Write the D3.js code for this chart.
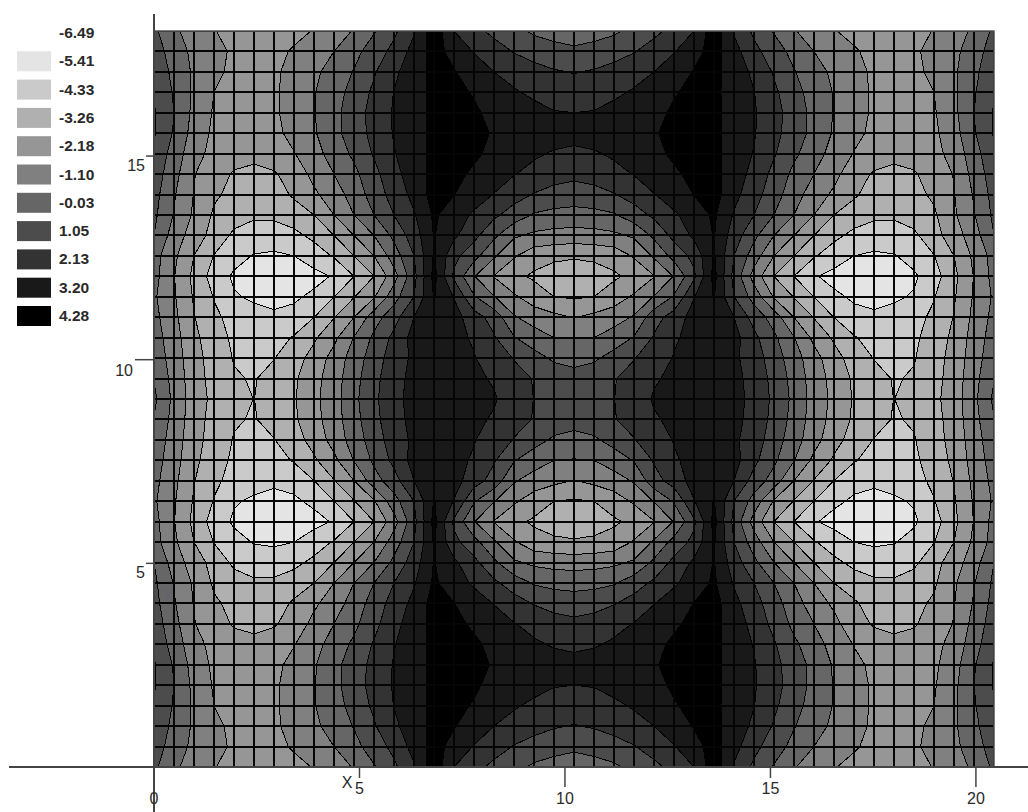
<!DOCTYPE html>
<html lang="en">
<head>
<meta charset="UTF-8" />
<title>Contour</title>
<script src="https://cdnjs.cloudflare.com/ajax/libs/d3/7.8.5/d3.min.js"></script>
<style>
  html, body { margin: 0; background: #fff; }
  svg { display: block; }
  text { font-family: "Liberation Sans", Arial, sans-serif; fill: #2a2a2a; }
</style>
</head>
<body>
<div id="chart"></div>
<script>
// legend: top label has no swatch, rest go with the band below them
const legendLabels = ["-6.49", "-5.41", "-4.33", "-3.26", "-2.18", "-1.10", "-0.03", "1.05", "2.13", "3.20", "4.28"];
const levels = [-6.49, -5.41, -4.33, -3.26, -2.18, -1.10, -0.03, 1.05, 2.13, 3.20, 4.28];
const bandColors = ["#e4e4e4", "#cacaca", "#b0b0b0", "#969696", "#808080", "#666666", "#4c4c4c", "#333333", "#191919", "#000000"];
const xTicks = [0, 5, 10, 15, 20];
const yTicks = [5, 10, 15];
const xMax = 20.44;
const yMax = 18.07;
const nCols = 43;
const nRows = 37;

// values, top row first
const gridValues = [
[0.19,-0.89,-1.59,-2.15,-2.39,-2.61,-2.67,-2.45,-2.13,-1.64,-1.02,-0.12,0.83,2.02,3.90,2.13,1.37,0.78,0.24,-0.19,-0.37,-0.46,-0.37,-0.19,0.24,0.78,1.37,2.13,3.90,2.02,0.83,-0.12,-1.02,-1.64,-2.13,-2.45,-2.67,-2.61,-2.39,-2.15,-1.59,-0.89,0.19],
[0.51,-0.52,-1.37,-1.96,-2.29,-2.50,-2.45,-2.07,-1.59,-1.10,-0.35,0.47,1.37,2.51,3.61,2.84,2.07,1.53,0.99,0.56,0.29,0.13,0.29,0.56,0.99,1.53,2.07,2.84,3.61,2.51,1.37,0.47,-0.35,-1.10,-1.59,-2.07,-2.45,-2.50,-2.29,-1.96,-1.37,-0.52,0.51],
[0.73,-0.30,-1.27,-2.02,-2.34,-2.45,-2.34,-1.86,-1.32,-0.67,0.03,0.94,1.91,2.72,3.48,3.26,2.72,2.13,1.80,1.48,1.16,0.99,1.16,1.48,1.80,2.13,2.72,3.26,3.48,2.72,1.91,0.94,0.03,-0.67,-1.32,-1.86,-2.34,-2.45,-2.34,-2.02,-1.27,-0.30,0.73],
[0.94,-0.14,-1.32,-2.18,-2.45,-2.50,-2.34,-1.75,-1.16,-0.46,0.35,1.26,2.16,2.79,3.42,3.36,3.15,2.67,2.23,1.96,1.75,1.59,1.75,1.96,2.23,2.67,3.15,3.36,3.42,2.79,2.16,1.26,0.35,-0.46,-1.16,-1.75,-2.34,-2.50,-2.45,-2.18,-1.32,-0.14,0.94],
[1.16,-0.03,-1.37,-2.29,-2.56,-2.61,-2.34,-1.75,-1.16,-0.35,0.56,1.43,2.23,2.83,3.42,3.42,3.29,3.04,2.67,2.40,2.18,2.13,2.18,2.40,2.67,3.04,3.29,3.42,3.42,2.83,2.23,1.43,0.56,-0.35,-1.16,-1.75,-2.34,-2.61,-2.56,-2.29,-1.37,-0.03,1.16],
[1.16,-0.14,-1.54,-2.39,-2.61,-2.67,-2.45,-1.86,-1.21,-0.35,0.51,1.37,2.21,2.83,3.42,3.42,3.36,3.15,2.88,2.72,2.61,2.56,2.61,2.72,2.88,3.15,3.36,3.42,3.42,2.83,2.21,1.37,0.51,-0.35,-1.21,-1.86,-2.45,-2.67,-2.61,-2.39,-1.54,-0.14,1.16],
[0.78,-0.46,-1.81,-2.50,-2.83,-3.04,-2.72,-2.23,-1.48,-0.67,0.19,1.16,2.07,2.78,3.45,3.42,3.31,3.04,2.67,2.29,2.02,1.85,2.02,2.29,2.67,3.04,3.31,3.42,3.45,2.78,2.07,1.16,0.19,-0.67,-1.48,-2.23,-2.72,-3.04,-2.83,-2.50,-1.81,-0.46,0.78],
[0.56,-0.73,-2.13,-2.78,-3.37,-3.47,-3.37,-2.83,-1.86,-1.10,-0.30,0.73,1.80,2.67,3.52,3.36,3.10,2.67,2.18,1.80,1.48,1.32,1.48,1.80,2.18,2.67,3.10,3.36,3.52,2.67,1.80,0.73,-0.30,-1.10,-1.86,-2.83,-3.37,-3.47,-3.37,-2.78,-2.13,-0.73,0.56],
[0.35,-0.99,-2.23,-3.10,-3.53,-3.80,-3.75,-3.10,-2.39,-1.59,-0.67,0.46,1.48,2.45,3.63,3.22,2.67,2.09,1.48,0.99,0.67,0.51,0.67,0.99,1.48,2.09,2.67,3.22,3.63,2.45,1.48,0.46,-0.67,-1.59,-2.39,-3.10,-3.75,-3.80,-3.53,-3.10,-2.23,-0.99,0.35],
[0.19,-1.16,-2.34,-3.42,-3.85,-4.17,-4.12,-3.80,-3.26,-2.18,-1.10,-0.03,1.05,2.02,3.36,2.67,1.96,1.26,0.56,-0.14,-0.35,-0.41,-0.35,-0.14,0.56,1.26,1.96,2.67,3.36,2.02,1.05,-0.03,-1.10,-2.18,-3.26,-3.80,-4.12,-4.17,-3.85,-3.42,-2.34,-1.16,0.19],
[-0.03,-1.59,-2.72,-3.64,-4.55,-4.82,-4.87,-4.60,-4.07,-3.26,-2.18,-1.10,0.24,1.59,3.26,2.34,1.37,0.19,-0.94,-1.32,-1.48,-1.54,-1.48,-1.32,-0.94,0.19,1.37,2.34,3.26,1.59,0.24,-1.10,-2.18,-3.26,-4.07,-4.60,-4.87,-4.82,-4.55,-3.64,-2.72,-1.59,-0.03],
[-0.67,-1.96,-3.26,-4.37,-5.04,-5.47,-5.57,-5.41,-4.87,-4.23,-3.26,-2.18,-0.57,1.05,3.31,1.37,0.35,-0.94,-2.07,-2.83,-3.04,-3.15,-3.04,-2.83,-2.07,-0.94,0.35,1.37,3.31,1.05,-0.57,-2.18,-3.26,-4.23,-4.87,-5.41,-5.57,-5.47,-5.04,-4.37,-3.26,-1.96,-0.67],
[-0.73,-2.13,-3.53,-4.80,-5.57,-5.84,-6.01,-5.95,-5.74,-5.31,-4.34,-3.26,-1.54,0.73,3.52,0.83,-1.05,-2.23,-2.99,-3.42,-3.75,-3.85,-3.75,-3.42,-2.99,-2.23,-1.05,0.83,3.52,0.73,-1.54,-3.26,-4.34,-5.31,-5.74,-5.95,-6.01,-5.84,-5.57,-4.80,-3.53,-2.13,-0.73],
[-0.94,-2.07,-3.37,-4.39,-5.31,-5.57,-5.68,-5.57,-5.20,-4.34,-3.31,-2.29,-0.46,1.05,3.26,2.07,0.08,-1.05,-2.02,-2.72,-3.26,-3.37,-3.26,-2.72,-2.02,-1.05,0.08,2.07,3.26,1.05,-0.46,-2.29,-3.31,-4.34,-5.20,-5.57,-5.68,-5.57,-5.31,-4.39,-3.37,-2.07,-0.94],
[-0.78,-1.91,-3.21,-4.12,-4.66,-5.04,-5.25,-5.09,-4.34,-3.31,-2.18,-0.51,0.62,2.13,3.04,2.56,1.53,0.62,-0.99,-1.59,-1.91,-2.23,-1.91,-1.59,-0.99,0.62,1.53,2.56,3.04,2.13,0.62,-0.51,-2.18,-3.31,-4.34,-5.09,-5.25,-5.04,-4.66,-4.12,-3.21,-1.91,-0.78],
[-0.57,-1.75,-2.99,-3.91,-4.50,-4.77,-4.77,-4.23,-3.42,-2.45,-1.05,0.19,1.32,2.51,2.88,2.40,2.02,1.16,0.03,-0.57,-1.10,-1.16,-1.10,-0.57,0.03,1.16,2.02,2.40,2.88,2.51,1.32,0.19,-1.05,-2.45,-3.42,-4.23,-4.77,-4.77,-4.50,-3.91,-2.99,-1.75,-0.57],
[-0.35,-1.64,-2.83,-3.75,-4.39,-4.60,-4.37,-3.69,-2.88,-1.75,-0.62,0.51,1.59,2.34,2.88,2.51,2.18,1.69,0.99,0.35,-0.19,-0.30,-0.19,0.35,0.99,1.69,2.18,2.51,2.88,2.34,1.59,0.51,-0.62,-1.75,-2.88,-3.69,-4.37,-4.60,-4.39,-3.75,-2.83,-1.64,-0.35],
[-0.08,-1.48,-2.78,-3.64,-4.23,-4.41,-3.91,-3.42,-2.56,-1.59,-0.41,0.73,1.75,2.45,2.90,2.61,2.34,2.02,1.48,0.99,0.56,0.29,0.56,0.99,1.48,2.02,2.34,2.61,2.90,2.45,1.75,0.73,-0.41,-1.59,-2.56,-3.42,-3.91,-4.41,-4.23,-3.64,-2.78,-1.48,-0.08],
[0.19,-1.37,-2.72,-3.53,-4.02,-4.34,-3.85,-3.37,-2.45,-1.54,-0.30,0.83,1.80,2.51,2.94,2.67,2.45,2.23,1.62,1.03,0.73,0.51,0.73,1.03,1.62,2.23,2.45,2.67,2.94,2.51,1.80,0.83,-0.30,-1.54,-2.45,-3.37,-3.85,-4.34,-4.02,-3.53,-2.72,-1.37,0.19],
[-0.08,-1.48,-2.78,-3.64,-4.23,-4.41,-3.91,-3.42,-2.56,-1.59,-0.41,0.73,1.75,2.45,2.90,2.61,2.34,2.02,1.48,0.99,0.56,0.29,0.56,0.99,1.48,2.02,2.34,2.61,2.90,2.45,1.75,0.73,-0.41,-1.59,-2.56,-3.42,-3.91,-4.41,-4.23,-3.64,-2.78,-1.48,-0.08],
[-0.35,-1.64,-2.83,-3.75,-4.39,-4.60,-4.37,-3.69,-2.88,-1.75,-0.62,0.51,1.59,2.34,2.88,2.51,2.18,1.69,0.99,0.35,-0.19,-0.30,-0.19,0.35,0.99,1.69,2.18,2.51,2.88,2.34,1.59,0.51,-0.62,-1.75,-2.88,-3.69,-4.37,-4.60,-4.39,-3.75,-2.83,-1.64,-0.35],
[-0.57,-1.75,-2.99,-3.91,-4.50,-4.77,-4.77,-4.23,-3.42,-2.45,-1.05,0.19,1.32,2.51,2.88,2.40,2.02,1.16,0.03,-0.57,-1.10,-1.16,-1.10,-0.57,0.03,1.16,2.02,2.40,2.88,2.51,1.32,0.19,-1.05,-2.45,-3.42,-4.23,-4.77,-4.77,-4.50,-3.91,-2.99,-1.75,-0.57],
[-0.78,-1.91,-3.21,-4.12,-4.66,-5.04,-5.25,-5.09,-4.34,-3.31,-2.18,-0.51,0.62,2.13,3.04,2.56,1.53,0.62,-0.99,-1.59,-1.91,-2.23,-1.91,-1.59,-0.99,0.62,1.53,2.56,3.04,2.13,0.62,-0.51,-2.18,-3.31,-4.34,-5.09,-5.25,-5.04,-4.66,-4.12,-3.21,-1.91,-0.78],
[-0.94,-2.07,-3.37,-4.39,-5.31,-5.57,-5.68,-5.57,-5.20,-4.34,-3.31,-2.29,-0.46,1.05,3.26,2.07,0.08,-1.05,-2.02,-2.72,-3.26,-3.37,-3.26,-2.72,-2.02,-1.05,0.08,2.07,3.26,1.05,-0.46,-2.29,-3.31,-4.34,-5.20,-5.57,-5.68,-5.57,-5.31,-4.39,-3.37,-2.07,-0.94],
[-0.73,-2.13,-3.53,-4.80,-5.57,-5.84,-6.01,-5.95,-5.74,-5.31,-4.34,-3.26,-1.54,0.73,3.52,0.83,-1.05,-2.23,-2.99,-3.42,-3.75,-3.85,-3.75,-3.42,-2.99,-2.23,-1.05,0.83,3.52,0.73,-1.54,-3.26,-4.34,-5.31,-5.74,-5.95,-6.01,-5.84,-5.57,-4.80,-3.53,-2.13,-0.73],
[-0.67,-1.96,-3.26,-4.37,-5.04,-5.47,-5.57,-5.41,-4.87,-4.23,-3.26,-2.18,-0.57,1.05,3.31,1.37,0.35,-0.94,-2.07,-2.83,-3.04,-3.15,-3.04,-2.83,-2.07,-0.94,0.35,1.37,3.31,1.05,-0.57,-2.18,-3.26,-4.23,-4.87,-5.41,-5.57,-5.47,-5.04,-4.37,-3.26,-1.96,-0.67],
[-0.03,-1.59,-2.72,-3.64,-4.55,-4.82,-4.87,-4.60,-4.07,-3.26,-2.18,-1.10,0.24,1.59,3.26,2.34,1.37,0.19,-0.94,-1.32,-1.48,-1.54,-1.48,-1.32,-0.94,0.19,1.37,2.34,3.26,1.59,0.24,-1.10,-2.18,-3.26,-4.07,-4.60,-4.87,-4.82,-4.55,-3.64,-2.72,-1.59,-0.03],
[0.19,-1.16,-2.34,-3.42,-3.85,-4.17,-4.12,-3.80,-3.26,-2.18,-1.10,-0.03,1.05,2.02,3.36,2.67,1.96,1.26,0.56,-0.14,-0.35,-0.41,-0.35,-0.14,0.56,1.26,1.96,2.67,3.36,2.02,1.05,-0.03,-1.10,-2.18,-3.26,-3.80,-4.12,-4.17,-3.85,-3.42,-2.34,-1.16,0.19],
[0.35,-0.99,-2.23,-3.10,-3.53,-3.80,-3.75,-3.10,-2.39,-1.59,-0.67,0.46,1.48,2.45,3.63,3.22,2.67,2.09,1.48,0.99,0.67,0.51,0.67,0.99,1.48,2.09,2.67,3.22,3.63,2.45,1.48,0.46,-0.67,-1.59,-2.39,-3.10,-3.75,-3.80,-3.53,-3.10,-2.23,-0.99,0.35],
[0.56,-0.73,-2.13,-2.78,-3.37,-3.47,-3.37,-2.83,-1.86,-1.10,-0.30,0.73,1.80,2.67,3.52,3.36,3.10,2.67,2.18,1.80,1.48,1.32,1.48,1.80,2.18,2.67,3.10,3.36,3.52,2.67,1.80,0.73,-0.30,-1.10,-1.86,-2.83,-3.37,-3.47,-3.37,-2.78,-2.13,-0.73,0.56],
[0.78,-0.46,-1.81,-2.50,-2.83,-3.04,-2.72,-2.23,-1.48,-0.67,0.19,1.16,2.07,2.78,3.45,3.42,3.31,3.04,2.67,2.29,2.02,1.85,2.02,2.29,2.67,3.04,3.31,3.42,3.45,2.78,2.07,1.16,0.19,-0.67,-1.48,-2.23,-2.72,-3.04,-2.83,-2.50,-1.81,-0.46,0.78],
[1.16,-0.14,-1.54,-2.39,-2.61,-2.67,-2.45,-1.86,-1.21,-0.35,0.51,1.37,2.21,2.83,3.42,3.42,3.36,3.15,2.88,2.72,2.61,2.56,2.61,2.72,2.88,3.15,3.36,3.42,3.42,2.83,2.21,1.37,0.51,-0.35,-1.21,-1.86,-2.45,-2.67,-2.61,-2.39,-1.54,-0.14,1.16],
[1.16,-0.03,-1.37,-2.29,-2.56,-2.61,-2.34,-1.75,-1.16,-0.35,0.56,1.43,2.23,2.83,3.42,3.42,3.29,3.04,2.67,2.40,2.18,2.13,2.18,2.40,2.67,3.04,3.29,3.42,3.42,2.83,2.23,1.43,0.56,-0.35,-1.16,-1.75,-2.34,-2.61,-2.56,-2.29,-1.37,-0.03,1.16],
[0.94,-0.14,-1.32,-2.18,-2.45,-2.50,-2.34,-1.75,-1.16,-0.46,0.35,1.26,2.16,2.79,3.42,3.36,3.15,2.67,2.23,1.96,1.75,1.59,1.75,1.96,2.23,2.67,3.15,3.36,3.42,2.79,2.16,1.26,0.35,-0.46,-1.16,-1.75,-2.34,-2.50,-2.45,-2.18,-1.32,-0.14,0.94],
[0.73,-0.30,-1.27,-2.02,-2.34,-2.45,-2.34,-1.86,-1.32,-0.67,0.03,0.94,1.91,2.72,3.48,3.26,2.72,2.13,1.80,1.48,1.16,0.99,1.16,1.48,1.80,2.13,2.72,3.26,3.48,2.72,1.91,0.94,0.03,-0.67,-1.32,-1.86,-2.34,-2.45,-2.34,-2.02,-1.27,-0.30,0.73],
[0.51,-0.52,-1.37,-1.96,-2.29,-2.50,-2.45,-2.07,-1.59,-1.10,-0.35,0.47,1.37,2.51,3.61,2.84,2.07,1.53,0.99,0.56,0.29,0.13,0.29,0.56,0.99,1.53,2.07,2.84,3.61,2.51,1.37,0.47,-0.35,-1.10,-1.59,-2.07,-2.45,-2.50,-2.29,-1.96,-1.37,-0.52,0.51],
[0.19,-0.89,-1.59,-2.15,-2.39,-2.61,-2.67,-2.45,-2.13,-1.64,-1.02,-0.12,0.83,2.02,3.90,2.13,1.37,0.78,0.24,-0.19,-0.37,-0.46,-0.37,-0.19,0.24,0.78,1.37,2.13,3.90,2.02,0.83,-0.12,-1.02,-1.64,-2.13,-2.45,-2.67,-2.61,-2.39,-2.15,-1.59,-0.89,0.19]
];

const width = 1028, height = 812;
const svg = d3.select("#chart").append("svg").attr("width", width).attr("height", height);

const x = d3.scaleLinear().domain([0, xMax]).range([154, 994]);
const y = d3.scaleLinear().domain([0, yMax]).range([767, 31]);
// grid index -> data units
const colX = d3.scaleLinear().domain([0, nCols - 1]).range([0, xMax]);
const rowY = d3.scaleLinear().domain([0, nRows - 1]).range([yMax, 0]);

svg.append("clipPath").attr("id", "plot")
  .append("rect").attr("x", x(0)).attr("y", y(yMax)).attr("width", x(xMax) - x(0)).attr("height", y(0) - y(yMax));

const plot = svg.append("g").attr("clip-path", "url(#plot)");

// lightest band sits under everything
plot.append("rect").attr("x", x(0)).attr("y", y(yMax)).attr("width", x(xMax) - x(0)).attr("height", y(0) - y(yMax))
  .attr("fill", bandColors[0]);

const contours = d3.contours().size([nCols, nRows]).smooth(true).thresholds(levels.slice(1, 10));
const bands = contours(gridValues.flat());
// d3 puts a grid value at index + 0.5
const path = d3.geoPath(d3.geoTransform({
  point(px, py) { this.stream.point(x(colX(px - 0.5)), y(rowY(py - 0.5))); }
}));

plot.selectAll("path.band").data(bands).join("path")
  .attr("class", "band")
  .attr("d", path)
  .attr("fill", (d, i) => bandColors[i + 1])
  .attr("stroke", "#000")
  .attr("stroke-width", 1)
  .attr("shape-rendering", "crispEdges");

// mesh
plot.selectAll("line.col").data(d3.range(nCols)).join("line")
  .attr("class", "col")
  .attr("x1", d => x(colX(d))).attr("x2", d => x(colX(d)))
  .attr("y1", y(0)).attr("y2", y(yMax))
  .attr("stroke", "#050505").attr("stroke-width", 2)
  .attr("shape-rendering", "crispEdges");
plot.selectAll("line.row").data(d3.range(nRows)).join("line")
  .attr("class", "row")
  .attr("x1", x(0)).attr("x2", x(xMax))
  .attr("y1", d => y(rowY(d))).attr("y2", d => y(rowY(d)))
  .attr("stroke", "#050505").attr("stroke-width", 2)
  .attr("shape-rendering", "crispEdges");

svg.append("rect").attr("x", x(0)).attr("y", y(yMax)).attr("width", x(xMax) - x(0)).attr("height", y(0) - y(yMax))
  .attr("fill", "none").attr("stroke", "#555").attr("stroke-width", 1.5);

// axes
const axisColor = "#444";
svg.append("line").attr("x1", 9).attr("x2", 1028).attr("y1", y(0)).attr("y2", y(0)).attr("stroke", axisColor).attr("stroke-width", 2);
svg.append("line").attr("x1", x(0)).attr("x2", x(0)).attr("y1", 14).attr("y2", 812).attr("stroke", axisColor).attr("stroke-width", 2);

// every second tick is the long one, with its label further out
const isLong = d => d % 10 === 0;

svg.selectAll("line.xtick").data(xTicks.slice(1)).join("line")
  .attr("class", "xtick")
  .attr("x1", d => x(d)).attr("x2", d => x(d))
  .attr("y1", y(0)).attr("y2", d => y(0) + (isLong(d) ? 20 : 11))
  .attr("stroke", axisColor).attr("stroke-width", 1.5);
svg.selectAll("text.xlab").data(xTicks).join("text")
  .attr("class", "xlab")
  .attr("x", d => x(d)).attr("y", d => isLong(d) ? 804 : 794)
  .attr("text-anchor", "middle").attr("font-size", 16)
  .text(d => d);

svg.selectAll("line.ytick").data(yTicks).join("line")
  .attr("class", "ytick")
  .attr("x1", d => x(0) - (isLong(d) ? 19 : 8)).attr("x2", x(0))
  .attr("y1", d => y(d)).attr("y2", d => y(d))
  .attr("stroke", axisColor).attr("stroke-width", 1.5);
svg.selectAll("text.ylab").data(yTicks).join("text")
  .attr("class", "ylab")
  .attr("x", d => isLong(d) ? 133 : 145).attr("y", d => y(d) + (isLong(d) ? 16 : 15))
  .attr("text-anchor", "end").attr("font-size", 16)
  .text(d => d);

svg.append("text").attr("x", 347).attr("y", 788).attr("text-anchor", "middle").attr("font-size", 16).text("X");
svg.append("text").attr("x", 168).attr("y", 600).attr("text-anchor", "middle").attr("font-size", 16)
  .style("fill", "#5a6470").attr("opacity", 0.5).text("Y");

// legend
const legendY = d3.scaleLinear().domain([0, 10]).range([32, 315]);
svg.selectAll("rect.swatch").data(bandColors).join("rect")
  .attr("class", "swatch")
  .attr("x", 17).attr("width", 34)
  .attr("y", (d, i) => legendY(i + 1) - 9).attr("height", 20)
  .attr("fill", d => d);
svg.selectAll("text.leg").data(legendLabels).join("text")
  .attr("class", "leg")
  .attr("x", 59)
  .attr("y", (d, i) => legendY(i) + 6)
  .attr("font-size", 15.5).attr("font-weight", "bold")
  .text(d => d);
</script>
</body>
</html>
